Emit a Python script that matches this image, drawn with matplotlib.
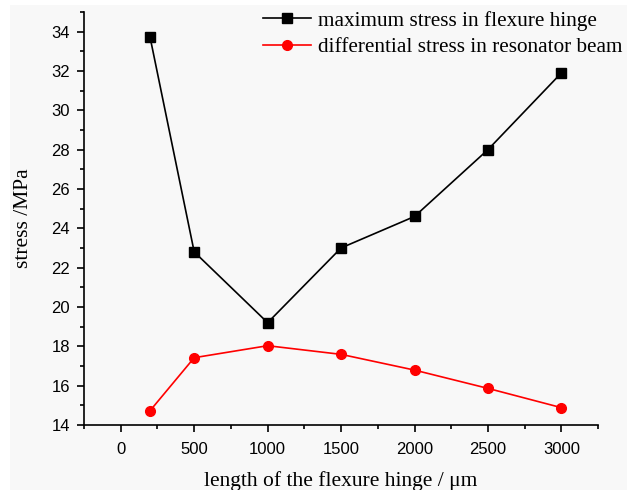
import matplotlib.pyplot as plt
from matplotlib.patches import Rectangle
from matplotlib.ticker import MultipleLocator

# hinge length (um) and stresses (MPa)
length = [200, 500, 1000, 1500, 2000, 2500, 3000]
max_stress = [33.7, 22.8, 19.2, 23.0, 24.6, 28.0, 31.9]
diff_stress = [14.73, 17.42, 18.03, 17.59, 16.79, 15.86, 14.88]

bg = '#f8f8f8'
fig = plt.figure(figsize=(6.27, 4.9), dpi=100, facecolor='white')
# grey panel with a thin white margin at the top and left, like the scanned original
fig.patches.append(Rectangle((10 / 627, 0), 1, 1 - 5 / 490, transform=fig.transFigure,
                             facecolor=bg, edgecolor='none', zorder=-10))
ax = fig.add_axes([0.134, 0.1327, 0.82, 0.843], facecolor=bg)

ax.plot(length, max_stress, color='black', marker='s', markersize=6.5,
        linewidth=1.2, label='maximum stress in flexure hinge')
ax.plot(length, diff_stress, color='red', marker='o', markersize=7,
        linewidth=1.2, label='differential stress in resonator beam')

ax.set_xlim(-250, 3250)
ax.set_ylim(14, 35)
ax.xaxis.set_major_locator(MultipleLocator(500))
ax.xaxis.set_minor_locator(MultipleLocator(250))
ax.yaxis.set_major_locator(MultipleLocator(2))
ax.yaxis.set_minor_locator(MultipleLocator(1))

for s in ['top', 'right']:
    ax.spines[s].set_visible(False)
for s in ['left', 'bottom']:
    ax.spines[s].set_linewidth(1.2)

ax.tick_params(which='major', direction='out', length=5, width=1.2, labelsize=12)
ax.tick_params(which='minor', direction='out', length=3, width=1.2)
ax.tick_params(axis='x', which='major', pad=7.5)
ax.tick_params(axis='y', which='major', pad=5)
for lab in ax.get_xticklabels() + ax.get_yticklabels():
    lab.set_family('Liberation Sans')

ax.set_xlabel('length of the flexure hinge / μm', family='Liberation Serif', fontsize=15.5, labelpad=10)
ax.set_ylabel('stress /MPa', family='Liberation Serif', fontsize=15.5, labelpad=13)

ax.legend(loc='upper left', bbox_to_anchor=(0.3895, 1.017), bbox_transform=fig.transFigure,
          frameon=False, prop={'family': 'Liberation Serif', 'size': 15.3},
          handlelength=2.25, handletextpad=0.3, labelspacing=0.3)

fig.savefig('out.png', dpi=100, facecolor='white')
